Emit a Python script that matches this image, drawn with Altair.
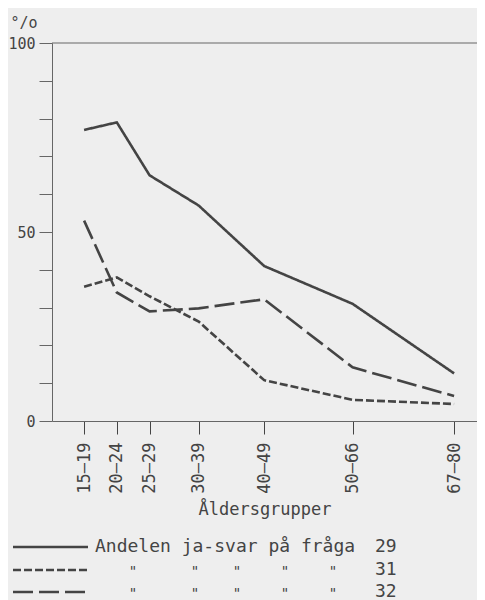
import altair as alt
import pandas as pd

# Age groups (x positions are the group mid-ages)
groups = ["15–19", "20–24", "25–29", "30–39", "40–49", "50–66", "67–80"]
mid_age = [17, 22, 27, 34.5, 44.5, 58, 73.5]

# Share of yes-answers (%) per question
q29 = [77, 79, 65, 57, 41, 31, 12.6]
q31 = [35.5, 38, 33, 26.3, 10.8, 5.6, 4.5]
q32 = [53, 34, 29, 29.8, 32.2, 14.2, 6.6]

series = ["29", "31", "32"]
legend_text = "Andelen ja-svar på fråga"
y_ticks = list(range(0, 101, 10))

INK = "#444444"
AXIS = "#666666"
BG = "#eeeeee"
FONT = "DejaVu Sans Mono"
DASHES = [[1, 0], [8, 3], [20, 6]]

rows = []
for name, vals in zip(series, [q29, q31, q32]):
    for g, m, v in zip(groups, mid_age, vals):
        rows.append({"q": name, "group": g, "age": m, "value": v})
df = pd.DataFrame(rows)

label_map = "{" + ",".join(f"'{m}':'{g}'" for m, g in zip(mid_age, groups)) + "}"

x_enc = alt.X(
    "age:Q",
    scale=alt.Scale(domain=[12.1, 77], nice=False, zero=False),
    axis=alt.Axis(
        values=mid_age,
        tickCount=20,
        labelExpr=f"{label_map}['' + datum.value]",
        labelAngle=270,
        labelPadding=8,
        labelFont=FONT,
        labelFontSize=17,
        labelColor=INK,
        labelOverlap=False,
        tickSize=13,
        tickColor=INK,
        domainColor=AXIS,
        grid=False,
        title="Åldersgrupper",
        titleFont=FONT,
        titleFontSize=17,
        titleFontWeight="normal",
        titleColor=INK,
        titlePadding=8,
    ),
)
y_enc = alt.Y(
    "value:Q",
    scale=alt.Scale(domain=[0, 100], nice=False),
    axis=alt.Axis(
        values=y_ticks,
        tickCount=20,
        labelExpr="datum.value % 50 == 0 ? datum.label : ''",
        labelFont=FONT,
        labelFontSize=15,
        labelColor=INK,
        labelPadding=4,
        labelOverlap=False,
        tickSize=13,
        tickColor=AXIS,
        domainColor=AXIS,
        grid=False,
        title="°/o",
        titleAngle=0,
        titleAlign="left",
        titleBaseline="alphabetic",
        titleX=-42,
        titleY=-16,
        titleFont=FONT,
        titleFontSize=15,
        titleFontWeight="normal",
        titleColor=INK,
    ),
)

lines = alt.Chart(df).mark_line(color=INK, strokeWidth=2.6, clip=True).encode(
    x=x_enc,
    y=y_enc,
    strokeDash=alt.StrokeDash("q:N", scale=alt.Scale(domain=series, range=DASHES), legend=None),
    detail="q:N",
)

top = alt.Chart(pd.DataFrame({"v": [100]})).mark_rule(color=AXIS, strokeWidth=1).encode(y="v:Q")

layers = [lines, top]

# hand-drawn style legend below the chart
row_y = [504, 527, 549]
ditto_x = [81, 143, 185, 233, 281]
for i, (name, dash) in enumerate(zip(series, DASHES)):
    layers.append(
        alt.Chart(pd.DataFrame({"q": [name]})).mark_rule(
            color=INK, strokeWidth=2.6, strokeDash=dash
        ).encode(x=alt.value(-39), x2=alt.value(36), y=alt.value(row_y[i]))
    )
    layers.append(
        alt.Chart(pd.DataFrame({"t": [name]})).mark_text(
            font=FONT, fontSize=18, color=INK, align="left", baseline="middle"
        ).encode(x=alt.value(323), y=alt.value(row_y[i]), text="t:N")
    )
    if i == 0:
        layers.append(
            alt.Chart(pd.DataFrame({"t": [legend_text]})).mark_text(
                font=FONT, fontSize=18, color=INK, align="left", baseline="middle"
            ).encode(x=alt.value(43), y=alt.value(row_y[i]), text="t:N")
        )
    else:
        for dx in ditto_x:
            layers.append(
                alt.Chart(pd.DataFrame({"t": ['"']})).mark_text(
                    font=FONT, fontSize=14, color=INK, align="center", baseline="middle"
                ).encode(x=alt.value(dx), y=alt.value(row_y[i] + 2), text="t:N")
            )

chart = (
    alt.layer(*layers)
    .properties(
        width=425,
        height=378,
        autosize=alt.AutoSizeParams(type="none"),
        padding={"left": 44, "top": 35, "right": 0, "bottom": 190},
        background=BG,
    )
    .configure_view(stroke=None)
)

chart.save("out.html", embed_options={"renderer": "svg", "actions": False})
